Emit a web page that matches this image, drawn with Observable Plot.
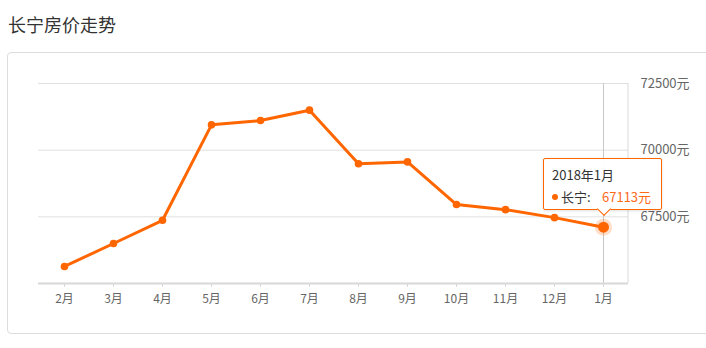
<!DOCTYPE html>
<html><head><meta charset="utf-8">
<script src="https://cdn.jsdelivr.net/npm/d3@7"></script>
<script src="https://cdn.jsdelivr.net/npm/@observablehq/plot@0.6"></script>
<style>
body{margin:0;background:#fff;font-family:"Noto Sans CJK SC","Noto Sans",sans-serif;}
#wrap{position:relative;width:706px;height:348px;overflow:hidden;}
#title{position:absolute;left:8px;top:11px;font-size:18px;color:#333;line-height:26px;white-space:nowrap;}
#box{position:absolute;left:7px;top:52px;width:740px;height:282px;border:1px solid #ddd;border-radius:4px;box-sizing:border-box;}
#chart{position:absolute;left:0;top:0;}
#tip{position:absolute;width:119px;height:52px;box-sizing:border-box;border:1px solid #ff6600;background:rgba(255,255,255,0.96);border-radius:2px;box-shadow:0 1px 3px rgba(0,0,0,0.12);font-size:13px;color:#333;}
#tip .t1{position:absolute;left:8px;top:6px;line-height:20px;white-space:nowrap;}
#tip .b{position:absolute;left:8px;top:35px;width:6px;height:6px;border-radius:50%;background:#ff6600;}
#tip .n{position:absolute;left:17px;top:28px;line-height:20px;white-space:nowrap;}
#tip .v{position:absolute;left:58px;top:28px;line-height:20px;white-space:nowrap;color:#ff6a1a;}
#tip .arrow{position:absolute;width:9px;height:9px;background:#fff;border-right:1px solid #ff6600;border-bottom:1px solid #ff6600;transform:rotate(45deg);bottom:-5px;}
</style></head>
<body>
<div id="wrap">
  <div id="title"></div>
  <div id="box"></div>
  <div id="chart"></div>
</div>
<script>
const titleText = "长宁房价走势";
const seriesName = "长宁";
const tipTitle = "2018年1月";
const months = ["2月","3月","4月","5月","6月","7月","8月","9月","10月","11月","12月","1月"];
const prices = [65640, 66500, 67370, 70950, 71110, 71500, 69490, 69560, 67960, 67770, 67470, 67113];
const yTicks = [67500, 70000, 72500];
const yDomain = [65000, 72500];

const data = months.map((m, i) => ({month: m, price: prices[i]}));
const last = [data[data.length - 1]];
const orange = "#ff6600";

document.getElementById("title").textContent = titleText;

const rightEdge = (index, scales, values, dims) => {
  const x = dims.width - dims.marginRight;
  const l = document.createElementNS("http://www.w3.org/2000/svg", "line");
  l.setAttribute("x1", x); l.setAttribute("x2", x);
  l.setAttribute("y1", dims.marginTop); l.setAttribute("y2", dims.height - dims.marginBottom);
  l.setAttribute("stroke", "#d9d9d9");
  return l;
};

const chart = Plot.plot({
  width: 706, height: 348,
  marginLeft: 38, marginRight: 78, marginTop: 83, marginBottom: 65,
  style: {fontFamily: '"Noto Sans CJK SC","Noto Sans",sans-serif', background: "transparent", overflow: "visible"},
  x: {type: "point", domain: months, padding: 0.5},
  y: {domain: yDomain},
  marks: [
    Plot.ruleY(yTicks, {stroke: "#e0e0e0", strokeWidth: 1}),
    rightEdge,
    Plot.ruleX(last, {x: "month", stroke: "#c8c8c8", strokeWidth: 1}),
    Plot.ruleY([yDomain[0]], {stroke: "#d8d8d8", strokeWidth: 2}),
    Plot.axisX({tickSize: 4, tickPadding: 7, stroke: "#d8d8d8", fill: "#666", fontSize: 12, label: null}),
    Plot.axisY(yTicks, {anchor: "right", tickSize: 0, tickPadding: 12, textAnchor: "start", fill: "#666", fontSize: 13, label: null, tickFormat: d => d + "元"}),
    Plot.line(data, {x: "month", y: "price", stroke: orange, strokeWidth: 3}),
    Plot.dot(data, {x: "month", y: "price", r: 3.8, fill: orange}),
    Plot.dot(last, {x: "month", y: "price", r: 8.5, fill: orange, fillOpacity: 0.22}),
    Plot.dot(last, {x: "month", y: "price", r: 5.5, fill: orange})
  ]
});
document.getElementById("chart").appendChild(chart);

const px = chart.scale("x").apply(last[0].month);
const py = chart.scale("y").apply(last[0].price);
const tip = document.createElement("div");
tip.id = "tip";
tip.innerHTML = `<div class="t1"></div><span class="b"></span><span class="n"></span><span class="v"></span><div class="arrow"></div>`;
tip.querySelector(".t1").textContent = tipTitle;
tip.querySelector(".n").textContent = seriesName + ":";
tip.querySelector(".v").textContent = last[0].price + "元";
tip.style.left = (px - 60) + "px";
tip.style.top = (py - 69) + "px";
tip.querySelector(".arrow").style.left = (60 - 5.5) + "px";
document.getElementById("wrap").appendChild(tip);
</script>
</body></html>
